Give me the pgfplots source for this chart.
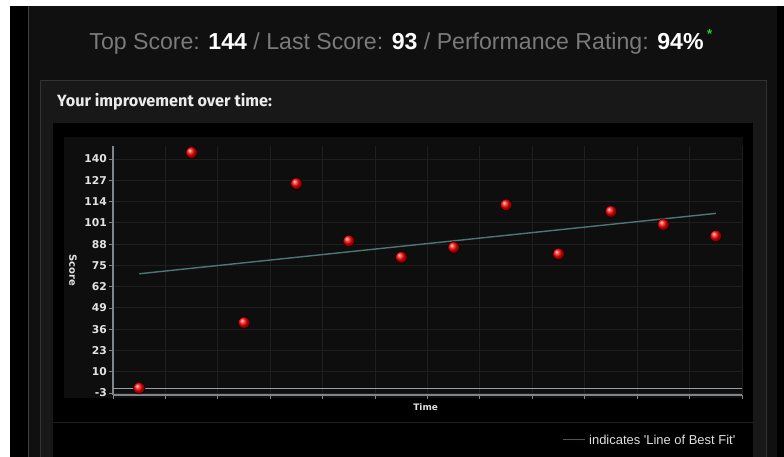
\documentclass[border=0pt]{standalone}
\usepackage{fontspec}
\setmainfont{DejaVu Sans}
\newfontfamily\lib{Liberation Sans}
\newfontfamily\fira{Fira Sans}
\usepackage{pgfplots}
\pgfplotsset{compat=1.18}
\definecolor{outerbg}{HTML}{101010}
\definecolor{innerbg}{HTML}{181818}
\definecolor{plotbg}{HTML}{0E0E0E}
\definecolor{gridc}{HTML}{1F1F1F}
\definecolor{axisc}{HTML}{80858A}
\definecolor{fitc}{HTML}{4D7674}
\definecolor{zeroc}{HTML}{9A9FA4}
\definecolor{ticklab}{HTML}{E2E2E2}
\definecolor{hdrgray}{HTML}{7A7A7A}
\definecolor{star}{HTML}{2FD23A}
\begin{document}
\begin{tikzpicture}[x=1bp,y=1bp]
\useasboundingbox (0,0) rectangle (784,457);
% backgrounds (y = 457 - pixel row)
\fill[white] (0,0) rectangle (784,457);
\fill[black] (10,0) rectangle (784,451);
\fill[outerbg] (29,0) rectangle (777,451);
\draw[color=black!75!white,line width=0.8] (28.5,0) -- (28.5,451);
\fill[innerbg] (40,0) rectangle (766,377);
\draw[color=black!80!white,line width=0.8] (40,0) -- (40,377) -- (766,377) -- (766,0);
\fill[black] (53,0) rectangle (753,334);
\fill[plotbg] (64,59) rectangle (743,320);
\draw[color=gridc,line width=1] (53,34) -- (753,34);
% header
\node[anchor=base,inner sep=0] at (396.5,407) {\lib\fontsize{23.2}{26}\selectfont\color{hdrgray}Top Score: \textcolor{white}{\bfseries 144} / Last Score: \textcolor{white}{\bfseries 93} / Performance Rating: \textcolor{white}{\bfseries 94\%}};
\node[anchor=base west,inner sep=0] at (707,418) {\lib\bfseries\fontsize{13}{14}\selectfont\color{star}*};
% subtitle
\node[anchor=base west,inner sep=0] at (57,350) {\fira\bfseries\fontsize{16.3}{18}\selectfont\color{white!92!black}Your improvement over time:};
% legend
\draw[color=fitc!80!black,line width=1] (563,17) -- (585,17);
\node[anchor=west,inner sep=0] at (589,17) {\lib\fontsize{13}{14}\selectfont\color{white!88!black}indicates 'Line of Best Fit'};
\begin{axis}[
  at={(113bp,62bp)}, anchor=south west,
  scale only axis, width=629bp, height=249bp,
  xmin=0, xmax=12, ymin=-4.2, ymax=148,
  axis lines=left, axis line style={-, color=axisc, line width=1.3bp},
  xtick={0,1,...,12}, xticklabels={},
  ytick={-3,10,23,36,49,62,75,88,101,114,127,140},
  tick align=outside, major tick length=4.5bp,
  tick style={color=axisc, line width=0.9bp},
  grid=major, major grid style={color=gridc, line width=1bp},
  /pgf/number format/assume math mode=true,
  yticklabel style={font=\bfseries\fontsize{10.8}{12}\selectfont, color=ticklab, inner sep=1.5bp},
  xlabel={Time}, ylabel={Score},
  xlabel style={font=\bfseries\fontsize{9}{10}\selectfont, color=ticklab, at={(axis description cs:0.497,0)}, anchor=north, yshift=-5bp},
  ylabel style={font=\bfseries\fontsize{10}{11}\selectfont, color=ticklab, at={(axis description cs:-0.0636,0.502)}, anchor=center, rotate=180},
  clip=false,
]
\addplot[color=zeroc, line width=1.2bp] coordinates {(0,0) (12,0)};
\addplot[color=fitc, line width=1.4bp] coordinates {(0.5,69.9) (11.5,106.8)};
\addplot[only marks, mark=ball, mark size=5.8bp, mark options={ball color=red}] coordinates {
(0.5,0) (1.5,144) (2.5,40) (3.5,125) (4.5,90) (5.5,80) (6.5,86) (7.5,112) (8.5,82) (9.5,108) (10.5,100) (11.5,93)
};
\end{axis}
\end{tikzpicture}
\end{document}
